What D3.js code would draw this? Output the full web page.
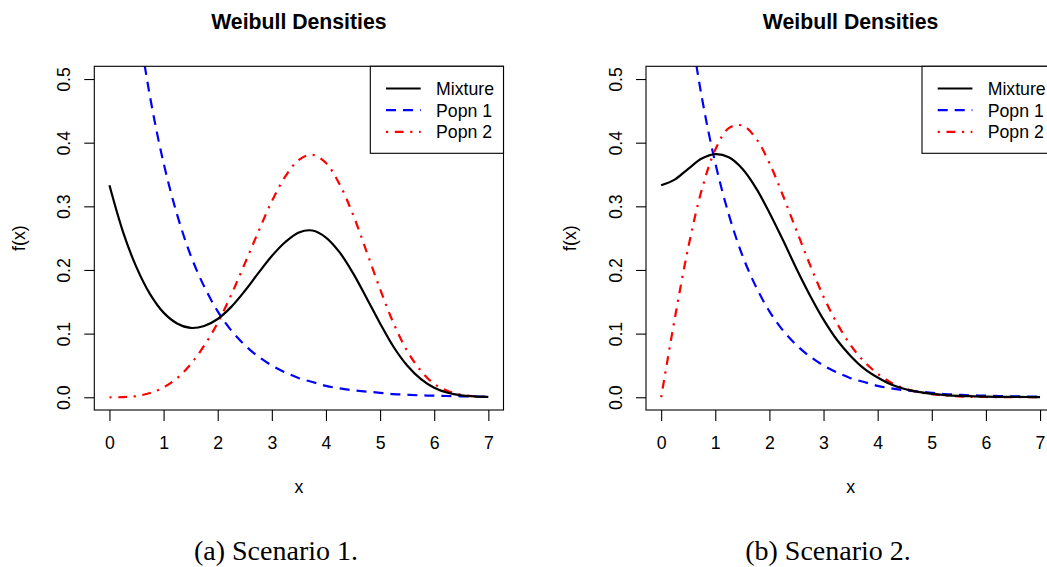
<!DOCTYPE html>
<html>
<head>
<meta charset="utf-8">
<script src="https://cdn.jsdelivr.net/npm/d3@7"></script>
<style>
  body { margin: 0; background: #fff; }
  svg text { font-family: "Liberation Sans", Arial, sans-serif; fill: #000; }
</style>
</head>
<body>
<div id="chart"></div>
<script>
// Valores (x de 0 a 7)
const xs = [0, 0.25, 0.5, 0.75, 1, 1.25, 1.5, 1.75, 2, 2.25, 2.5, 2.75, 3, 3.25, 3.5,
            3.75, 4, 4.25, 4.5, 4.75, 5, 5.25, 5.5, 5.75, 6, 6.25, 6.5, 6.75, 7];

// Escenario 1
const s1Mixture = [0.333, 0.260, 0.204, 0.162, 0.133, 0.116, 0.109, 0.112, 0.123, 0.142, 0.167,
                   0.195, 0.222, 0.244, 0.259, 0.262, 0.251, 0.228, 0.195, 0.156, 0.116, 0.079,
                   0.050, 0.029, 0.015, 0.007, 0.003, 0.0014, 0.0006];
const s1Popn1 = [1.000, 0.779, 0.607, 0.472, 0.368, 0.287, 0.223, 0.174, 0.135, 0.105, 0.082,
                 0.064, 0.050, 0.039, 0.030, 0.024, 0.018, 0.014, 0.011, 0.009, 0.007, 0.005,
                 0.004, 0.003, 0.0025, 0.002, 0.0015, 0.0012, 0.0009];
const s1Popn2 = [0, 0.0002, 0.002, 0.0066, 0.0156, 0.030, 0.052, 0.081, 0.117, 0.161, 0.210,
                 0.260, 0.308, 0.347, 0.373, 0.381, 0.368, 0.335, 0.287, 0.229, 0.170, 0.116,
                 0.073, 0.042, 0.021, 0.010, 0.004, 0.0015, 0.0005];

// Escenario 2
const s2Mixture = [0.333, 0.342, 0.359, 0.375, 0.382, 0.377, 0.359, 0.329, 0.290, 0.247, 0.202,
                   0.160, 0.122, 0.090, 0.065, 0.045, 0.031, 0.020, 0.013, 0.0085, 0.0054, 0.0035,
                   0.0023, 0.0016, 0.0011, 0.0007, 0.0006, 0.0004, 0.0003];
const s2Popn1 = s1Popn1.slice();
const s2Popn2 = [0, 0.123, 0.235, 0.326, 0.389, 0.423, 0.427, 0.407, 0.368, 0.317, 0.262,
                 0.208, 0.158, 0.116, 0.082, 0.056, 0.037, 0.023, 0.014, 0.008, 0.005, 0.0027,
                 0.0014, 0.0007, 0.0004, 0.0002, 0.0001, 0, 0];

const xTicks = [0, 1, 2, 3, 4, 5, 6, 7];
const yTicks = [0, 0.1, 0.2, 0.3, 0.4, 0.5];
const legendLabels = ["Mixture", "Popn 1", "Popn 2"];
const captions = ["(a) Scenario 1.", "(b) Scenario 2."];
const titles = ["Weibull Densities", "Weibull Densities"];

// Dimensiones
const width = 1047;
const height = 567;
const panelShift = 551.7;
const plotLeft = 94.3, plotRight = 503.5, plotTop = 66.3, plotBottom = 410;

const colores = ["#000000", "#0000ff", "#ff0000"];
const guiones = [null, "10,7", "2.2,6.6,8.8,6.6"];
const fontSize = 17.7;

const svg = d3.select("#chart")
    .append("svg")
    .attr("width", width)
    .attr("height", height);

const paneles = [
    { series: [s1Mixture, s1Popn1, s1Popn2], title: titles[0], caption: captions[0], capX: 276 },
    { series: [s2Mixture, s2Popn1, s2Popn2], title: titles[1], caption: captions[1], capX: 828 }
];

paneles.forEach((panel, i) => {
    const g = svg.append("g")
        .attr("transform", `translate(${i * panelShift},0)`);

    // Escalas (R añade 4% a cada lado)
    const x = d3.scaleLinear()
        .domain([-0.28, 7.28])
        .range([plotLeft, plotRight]);
    const y = d3.scaleLinear()
        .domain([-0.02, 0.52])
        .range([plotBottom, plotTop]);

    const cx = (plotLeft + plotRight) / 2;

    // Titulo
    g.append("text")
        .attr("x", cx)
        .attr("y", 29.3)
        .attr("text-anchor", "middle")
        .style("font-size", (fontSize * 1.2) + "px")
        .style("font-weight", "bold")
        .text(panel.title);

    // Clip para las curvas
    g.append("clipPath")
        .attr("id", "clip" + i)
        .append("rect")
        .attr("x", plotLeft)
        .attr("y", plotTop)
        .attr("width", plotRight - plotLeft)
        .attr("height", plotBottom - plotTop);

    const line = d3.line()
        .x((d, k) => x(xs[k]))
        .y(d => y(d))
        .curve(d3.curveCatmullRom);

    const curvas = g.append("g").attr("clip-path", `url(#clip${i})`);
    // Orden de dibujo: Popn 1, Popn 2, Mixture encima
    [1, 2, 0].forEach(s => {
        curvas.append("path")
            .datum(panel.series[s])
            .attr("d", line)
            .attr("fill", "none")
            .attr("stroke", colores[s])
            .attr("stroke-width", 2.2)
            .attr("stroke-dasharray", guiones[s]);
    });

    // Eje x
    const ejeX = g.append("g")
        .attr("transform", `translate(0,${plotBottom})`)
        .call(d3.axisBottom(x).tickValues(xTicks).tickSize(11).tickFormat(d3.format("d")));
    ejeX.select(".domain").remove();
    ejeX.selectAll("line").attr("stroke", "#000").attr("stroke-width", 1.1);
    ejeX.selectAll("text")
        .attr("y", 39)
        .attr("dy", null)
        .style("font-size", fontSize + "px")
        .attr("font-family", null);

    // Eje y
    const ejeY = g.append("g")
        .attr("transform", `translate(${plotLeft},0)`)
        .call(d3.axisLeft(y).tickValues(yTicks).tickSize(10).tickFormat(d3.format(".1f")));
    ejeY.select(".domain").remove();
    ejeY.selectAll("line").attr("stroke", "#000").attr("stroke-width", 1.1);
    ejeY.selectAll("text")
        .attr("x", null)
        .attr("dy", null)
        .attr("text-anchor", "middle")
        .attr("transform", "translate(-24.3,0) rotate(-90)")
        .style("font-size", fontSize + "px")
        .attr("font-family", null);

    // Caja del grafico
    g.append("rect")
        .attr("x", plotLeft)
        .attr("y", plotTop)
        .attr("width", plotRight - plotLeft)
        .attr("height", plotBottom - plotTop)
        .attr("fill", "none")
        .attr("stroke", "#000")
        .attr("stroke-width", 1.1);

    // Etiquetas de ejes
    g.append("text")
        .attr("x", cx)
        .attr("y", 493)
        .attr("text-anchor", "middle")
        .style("font-size", fontSize + "px")
        .text("x");

    g.append("text")
        .attr("transform", `translate(24.6,${(plotTop + plotBottom) / 2}) rotate(-90)`)
        .attr("text-anchor", "middle")
        .style("font-size", fontSize + "px")
        .text("f(x)");

    // Leyenda
    const legLeft = plotRight - 133.2;
    const leyenda = g.append("g");
    leyenda.append("rect")
        .attr("x", legLeft)
        .attr("y", plotTop)
        .attr("width", 133.2)
        .attr("height", 87)
        .attr("fill", "#fff")
        .attr("stroke", "#000")
        .attr("stroke-width", 1.1);

    legendLabels.forEach((lab, k) => {
        const ly = 88.5 + k * 21.7;
        leyenda.append("line")
            .attr("x1", legLeft + 15.7)
            .attr("x2", legLeft + 50.4)
            .attr("y1", ly)
            .attr("y2", ly)
            .attr("stroke", colores[k])
            .attr("stroke-width", 2.2)
            .attr("stroke-dasharray", guiones[k]);
        leyenda.append("text")
            .attr("x", legLeft + 65.7)
            .attr("y", ly + 6.4)
            .style("font-size", fontSize + "px")
            .text(lab);
    });

    // Subtitulo de la figura
    svg.append("text")
        .attr("x", panel.capX)
        .attr("y", 560)
        .attr("text-anchor", "middle")
        .style("font-family", "'Liberation Serif', 'Times New Roman', serif")
        .style("font-size", "28px")
        .text(panel.caption);
});
</script>
</body>
</html>
